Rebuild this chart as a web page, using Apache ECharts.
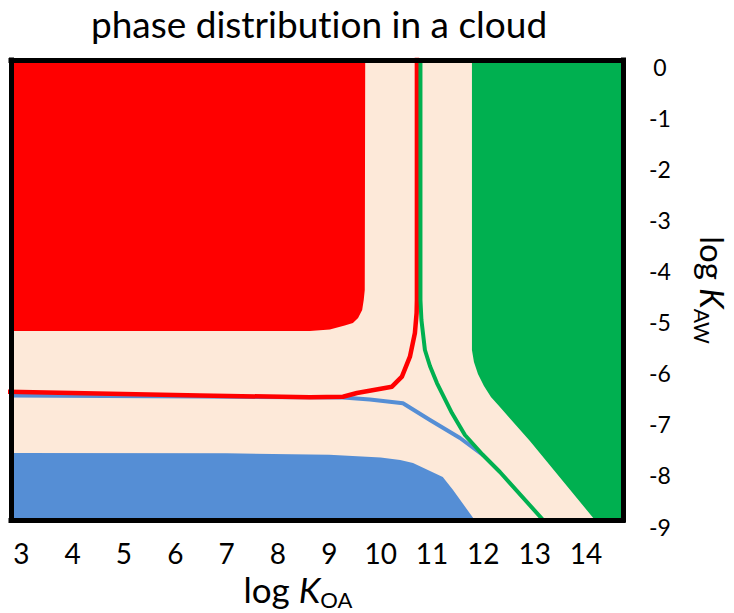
<!DOCTYPE html>
<html>
<head>
<meta charset="utf-8">
<script src="https://cdn.jsdelivr.net/npm/echarts@6/dist/echarts.min.js"></script>
<style>
html,body{margin:0;padding:0;background:#fff;overflow:hidden;}
#chart{width:734px;height:613px;overflow:hidden;}
#chart svg{display:block;}
#chart text{font-variant-ligatures:none !important;font-feature-settings:"liga" 0,"clig" 0 !important;}
</style>
</head>
<body>
<div id="chart"></div>
<script>
// ---- data (log K_OA, log K_AW) ----
const titleText = 'phase distribution in a cloud';
const xTicks = [3, 4, 5, 6, 7, 8, 9, 10, 11, 12, 13, 14];
const yTicks = [0, -1, -2, -3, -4, -5, -6, -7, -8, -9];

// boundary of the gas-phase dominated region (filled up to the top)
const redRegion = [[2.5, -5.302], [8.62, -5.302], [9.01, -5.273], [9.30, -5.195], [9.46, -5.146],
  [9.56, -5.048], [9.64, -4.891], [9.67, -4.696], [9.69, -4.500], [9.70, 0.5]];
// boundary of the water-phase dominated region (filled down to the bottom)
const blueRegion = [[2.5, -7.689], [7.0, -7.695], [9.0, -7.725], [10.0, -7.775], [10.38, -7.826],
  [10.63, -7.885], [11.21, -8.159], [11.41, -8.413], [11.83, -9.0], [11.9, -9.3]];
// boundary of the organic-phase dominated region (filled up to the top)
const greenRegion = [[11.778, 0.5], [11.778, -5.674], [11.817, -5.909], [11.895, -6.144],
  [12.012, -6.378], [12.148, -6.594], [12.323, -6.789], [12.907, -7.454], [14.173, -9.0],
  [14.25, -9.3], [15.0, -9.3]];

// 50 % lines
const redLine = [[2.7, -6.490], [6.48, -6.564], [8.62, -6.599], [9.265, -6.588], [9.538, -6.515],
  [10.22, -6.392], [10.414, -6.196], [10.57, -5.805], [10.667, -5.341], [10.70, -4.950],
  [10.706, -4.696], [10.706, 0.5]];
const blueLine = [[2.7, -6.564], [6.48, -6.584], [9.265, -6.603], [9.79, -6.642], [10.434, -6.717],
  [10.96, -7.044], [11.545, -7.396], [11.99, -7.728]];
const greenLine = [[10.775, 0.5], [10.775, -4.696], [10.794, -5.087], [10.862, -5.674],
  [10.96, -5.987], [11.096, -6.320], [11.388, -6.907], [11.641, -7.337], [11.992, -7.728],
  [12.323, -8.061], [13.199, -9.039]];

const xRange = [2.8, 14.72];
const yRange = [-9, 0];

// ---- chart ----
const FONT = 'Lato';
const chart = echarts.init(document.getElementById('chart'), null, {renderer: 'svg', width: 734, height: 613});

const frameLine = {show: true, onZero: false, lineStyle: {color: '#000', width: 5, cap: 'square'}};

function areaSeries(data, color, origin) {
  return {
    type: 'line', data: data, symbol: 'none', silent: true, z: 2,
    lineStyle: {width: 0, opacity: 0},
    areaStyle: {color: color, opacity: 1, origin: origin}
  };
}
function lineSeries(data, color, width, z) {
  return {
    type: 'line', data: data, symbol: 'none', silent: true, z: z,
    lineStyle: {color: color, width: width, join: 'round', cap: 'round'}
  };
}
function nameRich(big, small, lh, drop) {
  return {
    a: {fontFamily: FONT, fontSize: big, lineHeight: lh, color: '#000', verticalAlign: 'bottom', padding: [0, 0, drop, 0]},
    b: {fontFamily: FONT, fontSize: big, lineHeight: lh, fontStyle: 'italic', color: '#000', verticalAlign: 'bottom', padding: [0, 0, drop, 0]},
    c: {fontFamily: FONT, fontSize: small, lineHeight: small, color: '#000', verticalAlign: 'bottom'}
  };
}

chart.setOption({
  backgroundColor: '#fff',
  animation: false,
  title: {
    text: titleText, left: 314, top: 0, textAlign: 'center',
    textStyle: {fontFamily: FONT, fontSize: 37, fontWeight: 'normal', color: '#000'}
  },
  grid: {left: 11, right: 111, top: 60, bottom: 93, show: true, containLabel: false,
    outerBoundsMode: 'none', backgroundColor: '#FDE9D9', borderWidth: 0},
  xAxis: [{
    type: 'value', min: xRange[0], max: xRange[1], position: 'bottom', z: 10,
    axisLine: frameLine, axisTick: {show: false}, splitLine: {show: false},
    axisLabel: {customValues: xTicks, fontFamily: FONT, fontSize: 28, color: '#000', margin: 19},
    name: '{a|log }{b|K}{c|OA}', nameLocation: 'middle', nameGap: 52,
    nameTextStyle: {padding: [0, 38, 0, 0], rich: nameRich(35, 22, 31, 4)}
  }, {
    type: 'value', min: xRange[0], max: xRange[1], position: 'top', z: 10,
    axisLine: frameLine, axisTick: {show: false}, splitLine: {show: false},
    axisLabel: {show: false}
  }],
  yAxis: [{
    type: 'value', min: yRange[0], max: yRange[1], position: 'right', z: 10,
    axisLine: frameLine, axisTick: {show: false}, splitLine: {show: false},
    axisLabel: {customValues: yTicks, fontFamily: FONT, fontSize: 23, color: '#000',
      margin: 37, align: 'center', verticalAlign: 'top', lineHeight: 13},
    name: '{a|log }{b|K}{c|AW}', nameLocation: 'middle', nameGap: 69, nameRotate: -90,
    nameTextStyle: {rich: nameRich(33, 21, 29, 4)}
  }, {
    type: 'value', min: yRange[0], max: yRange[1], position: 'left', z: 10,
    axisLine: frameLine, axisTick: {show: false}, splitLine: {show: false},
    axisLabel: {show: false}
  }],
  series: [
    areaSeries(redRegion, '#FF0000', 'end'),
    areaSeries(blueRegion, '#558ED5', 'start'),
    areaSeries(greenRegion, '#00B050', 'end'),
    lineSeries(blueLine, '#558ED5', 4, 3),
    lineSeries(redLine, '#FF0000', 4.5, 4),
    lineSeries(greenLine, '#00B050', 4, 5)
  ]
});
</script>
</body>
</html>
